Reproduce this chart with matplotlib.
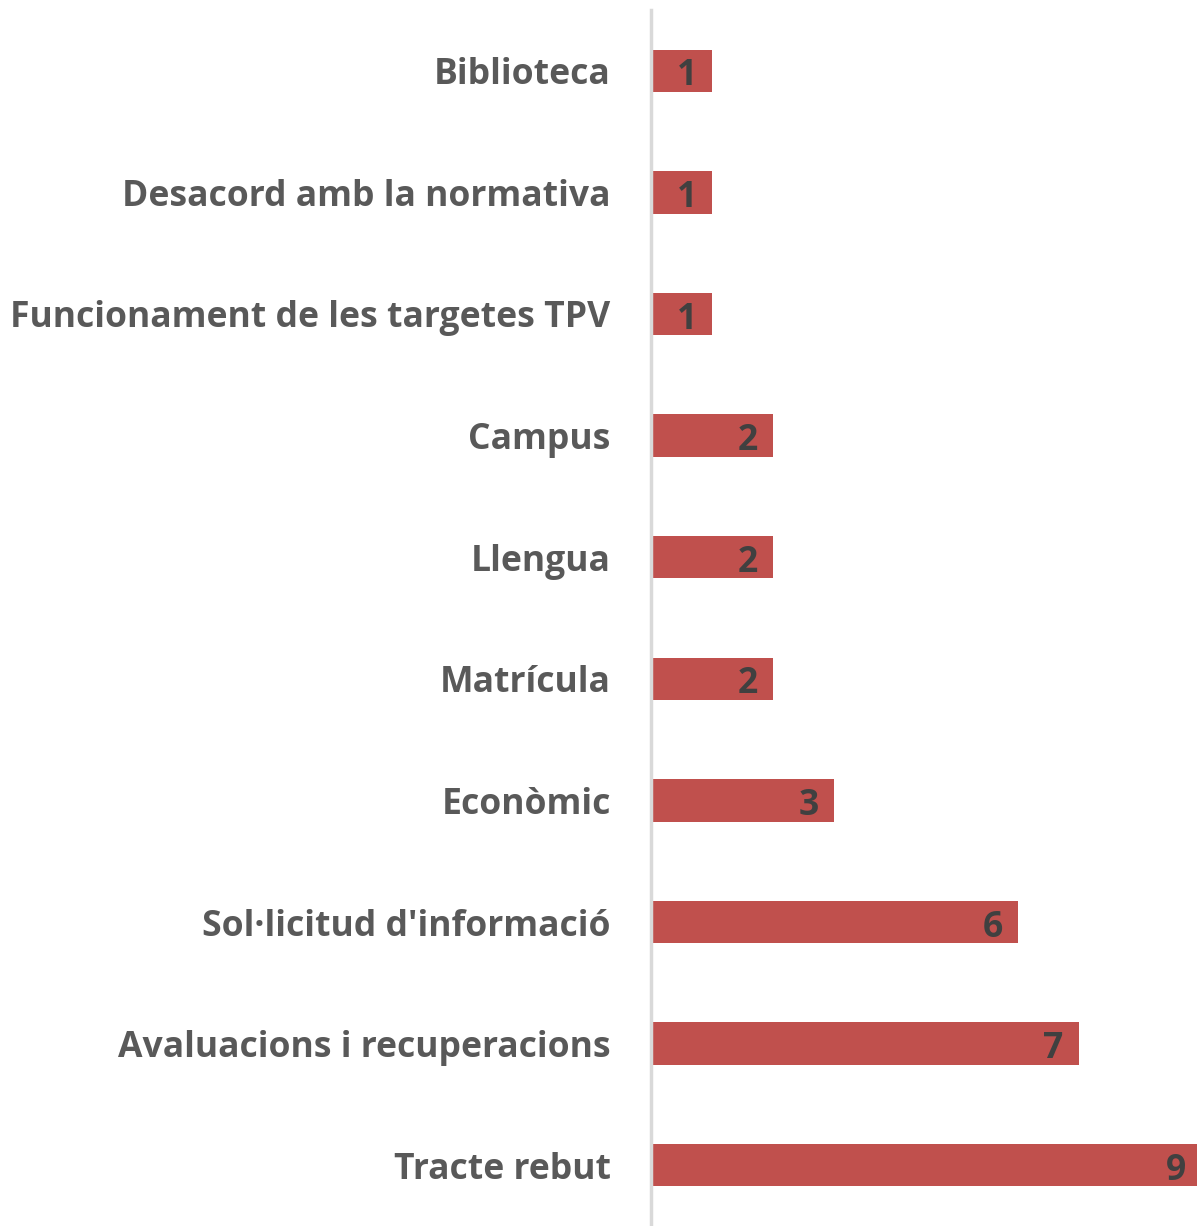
import matplotlib.pyplot as plt

categories = ["Biblioteca", "Desacord amb la normativa", "Funcionament de les targetes TPV",
              "Campus", "Llengua", "Matrícula", "Econòmic", "Sol·licitud d'informació",
              "Avaluacions i recuperacions", "Tracte rebut"]
values = [1, 1, 1, 2, 2, 2, 3, 6, 7, 9]

bar_color = "#C0504D"
label_color = "#595959"
value_color = "#404040"
font = "Open Sans"

fig = plt.figure(figsize=(11.97, 12.26), dpi=100)
ax = fig.add_axes([651 / 1197, 0, 1 - 651 / 1197, 1216 / 1226])

ypos = list(range(len(categories)))
ax.barh(ypos, values, height=0.35, color=bar_color)
ax.set_ylim(len(categories) - 0.5, -0.5)
ax.set_xlim(0, 8.93)

ax.set_yticks(ypos)
ax.set_yticklabels(categories, fontsize=25.6, fontweight="bold", color=label_color, family=font)
ax.tick_params(axis="y", length=0, pad=29)
ax.set_xticks([])

for side in ["top", "right", "bottom"]:
    ax.spines[side].set_visible(False)
ax.spines["left"].set_color("#D9D9D9")
ax.spines["left"].set_linewidth(2.5)

for y, v in zip(ypos, values):
    ax.annotate(str(v), xy=(v, y), xytext=(-11, -4), textcoords="offset points",
                ha="right", va="center", fontsize=25.6, fontweight="bold",
                color=value_color, family=font, annotation_clip=False)

fig.savefig("out.png", dpi=100)
